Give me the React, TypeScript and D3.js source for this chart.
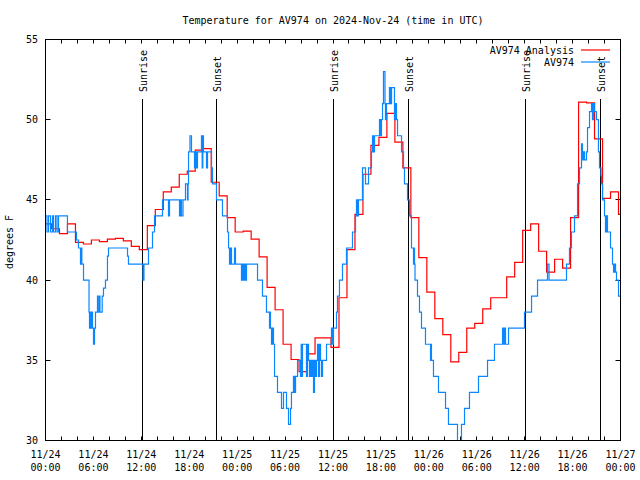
import React from "react";
import * as d3 from "d3";

const TITLE = "Temperature for AV974 on 2024-Nov-24 (time in UTC)";
const Y_LABEL = "degrees F";
const START_UTC = Date.UTC(2024, 10, 24, 0, 0);
const X_DOMAIN_HOURS = [0, 72];
const Y_DOMAIN = [30, 55];
const Y_TICKS = [30, 35, 40, 45, 50, 55];
const X_LABEL_STEP_HOURS = 6;
const X_MINOR_STEP_HOURS = 2;

// Analysis (hourly, first value begins at -0.25 h)
const ANALYSIS_START_HOUR = -0.25;
const analysisTemps = [
  43.5, 43.2, 42.9, 43.5, 42.35, 42.25, 42.5, 42.4, 42.55, 42.6, 42.45, 42.1,
  41.9, 43.4, 44.4, 45.5, 45.8, 46.6, 46.8, 48.1, 48.2, 46.1, 45.25, 43.9,
  43.0, 43.05, 42.55, 41.45, 39.55, 38.15, 36.0, 35.05, 34.3, 35.4, 36.4, 36.4,
  35.8, 38.9, 41.9, 44.1, 46.6, 48.4, 48.9, 50.4, 48.6, 47.0, 43.9, 41.4,
  39.25, 37.6, 36.6, 34.9, 35.5, 37.0, 37.3, 38.2, 38.9, 38.9, 40.2, 41.1,
  43.1, 43.5, 41.8, 40.5, 41.3, 40.75, 43.9, 51.1, 51.05, 48.8, 45.1, 45.5,
  44.1,
];

// Station observations (hours since 11/24 00:00 UTC, value holds until next)
const obsHours = [
  0.0, 0.19, 0.38, 0.63, 0.88, 1.0, 1.25, 1.44, 1.63, 2.75, 3.88, 4.13, 4.38, 4.47, 4.55, 4.76,
  5.45, 5.51, 5.6, 5.67, 5.76, 5.89, 6.01, 6.14, 6.26, 6.51, 6.6, 6.76, 6.82, 7.1, 7.26, 7.51,
  7.76, 7.89, 10.27, 10.39, 12.21, 12.33, 12.9, 13.4, 13.65, 14.65, 15.4, 15.53, 16.78, 16.9,
  17.03, 17.22, 17.53, 17.78, 17.85, 17.91, 18.09, 18.28, 18.66, 18.78, 18.91, 19.03, 19.53, 19.62,
  19.7, 19.78, 20.16, 20.29, 20.79, 20.91, 21.41, 22.16, 22.79, 22.92, 23.04, 23.17, 23.29, 23.67,
  23.79, 24.54, 24.67, 24.79, 24.92, 25.04, 25.17, 26.55, 27.17, 27.67, 28.05, 28.11, 28.17, 28.3,
  28.42, 28.55, 28.68, 29.05, 29.55, 29.8, 30.18, 30.43, 30.68, 30.8, 31.05, 31.18, 31.31, 31.56,
  31.93, 32.02, 32.09, 32.18, 32.68, 32.81, 32.93, 33.06, 33.18, 33.31, 33.43, 33.56, 33.68, 33.81,
  33.93, 34.06, 34.18, 34.31, 34.44, 34.56, 34.69, 35.19, 35.81, 35.94, 36.06, 36.44, 36.56, 36.81,
  37.19, 37.69, 38.44, 38.82, 38.94, 39.07, 39.19, 39.69, 40.07, 40.45, 40.82, 40.95, 41.07, 41.2,
  41.82, 41.95, 42.07, 42.2, 42.32, 42.51, 42.57, 42.7, 43.07, 43.2, 43.33, 43.7, 43.83, 43.95,
  44.08, 44.58, 44.83, 44.95, 45.33, 45.58, 45.83, 46.08, 46.14, 46.21, 46.27, 46.58, 46.83, 47.08,
  47.58, 48.21, 48.27, 48.33, 48.58, 49.21, 50.09, 50.46, 51.59, 52.09, 52.47, 53.09, 54.22, 55.35,
  56.22, 57.23, 57.35, 57.48, 57.6, 57.98, 59.98, 60.86, 61.61, 62.86, 63.05, 65.24, 65.61, 65.86,
  66.24, 66.62, 66.87, 67.12, 67.24, 67.37, 67.49, 67.74, 67.87, 68.12, 68.37, 68.49, 68.62, 68.75,
  68.99, 69.24, 69.37, 69.56, 69.62, 69.75, 70.0, 70.12, 70.25, 70.37, 70.75, 71.0, 71.13, 71.25,
  71.38, 71.5, 71.75, 72.0,
];
const obsTemps = [
  44, 43, 44, 43, 44, 43, 44, 43, 44, 43, 42.5, 42, 41, 42, 41, 40,
  38, 37, 38, 37, 38, 37, 36, 37, 38, 39, 38, 39, 38, 39, 39.5, 40,
  41.5, 42, 41.5, 41, 40, 41, 42, 43, 44, 45, 44, 45, 44, 45,
  44, 45, 46, 45, 46, 48, 49, 48, 47, 48, 47, 48, 49, 47,
  49, 48, 47, 48, 47, 46, 45, 44, 43, 42, 41, 42, 41, 42,
  41, 40, 41, 40, 41, 40, 41, 40, 39, 38, 37, 38, 37, 36,
  37, 36, 34, 33, 32, 33, 32, 31, 32, 33, 34, 33, 34, 35,
  34, 36, 34, 36, 34, 36, 35, 34, 35, 34, 35, 33, 35, 34,
  35, 36, 34, 36, 35, 34, 35, 36, 37, 36, 37, 38, 39, 40,
  41, 42, 43, 44, 45, 44, 45, 47, 46, 47, 48, 49, 48, 49,
  50, 49, 50, 51, 53, 51, 50, 51, 52, 51, 52, 50, 51, 50,
  49, 48, 47, 46, 45, 44, 42, 41, 42, 41, 40, 39, 38, 37,
  36, 35, 36, 35, 34, 33, 32, 31, 29, 31, 32, 33, 34, 35,
  36, 37, 36, 37, 36, 37, 38, 39, 40, 41, 40, 41, 42, 43,
  44, 46, 47, 48.5, 47.5, 48, 47.5, 48, 49.5, 50.5, 51, 50, 51, 50.5,
  50, 48, 47, 46.5, 46, 45, 44, 43, 44, 43, 42, 41, 40.5, 41,
  40.5, 40, 39, 39,
];

const sunHours = [12.15, 21.41, 36.06, 45.45, 60.11, 69.5];
const sunLabels = ["Sunrise", "Sunset", "Sunrise", "Sunset", "Sunrise", "Sunset"];

const legendNames = ["AV974 Analysis", "AV974"];
const seriesColors = ["#ff0000", "#0a86ff"];

const FONT = "'DejaVu Sans Mono', 'Liberation Mono', monospace";

export default function App() {
  const left = 45.5, right = 620.5, top = 39.5, bottom = 440.5;
  const x = d3.scaleLinear().domain(X_DOMAIN_HOURS).range([left, right]);
  const y = d3.scaleLinear().domain(Y_DOMAIN).range([bottom, top]);
  const crisp = (v: number) => Math.floor(v) + 0.5;

  const analysisPts: [number, number][] = analysisTemps.map((v, i) => [ANALYSIS_START_HOUR + i, v]);
  analysisPts.push([X_DOMAIN_HOURS[1] + 0.5, analysisTemps[analysisTemps.length - 1]]);
  const obsPts: [number, number][] = obsHours.map((h, i) => [h, obsTemps[i]]);

  const line = d3
    .line<[number, number]>()
    .x((d) => x(d[0]))
    .y((d) => y(d[1]))
    .curve(d3.curveStepAfter);

  const fmtDate = d3.utcFormat("%m/%d");
  const fmtTime = d3.utcFormat("%H:%M");
  const labelHours = d3.range(X_DOMAIN_HOURS[0], X_DOMAIN_HOURS[1] + 0.01, X_LABEL_STEP_HOURS);
  const minorHours = d3.range(X_DOMAIN_HOURS[0], X_DOMAIN_HOURS[1] + 0.01, X_MINOR_STEP_HOURS);

  return (
    <svg
      width={640}
      height={480}
      style={{ position: "absolute", left: 0, top: 0, background: "#fff" }}
      fontFamily={FONT}
      fontSize={10}
    >
      <rect x={0} y={0} width={640} height={480} fill="#fff" />
      <defs>
        <clipPath id="plot">
          <rect x={left} y={top} width={right - left} height={bottom - top} />
        </clipPath>
      </defs>
      <text x={(left + right) / 2} y={24} textAnchor="middle" fill="#000">
        {TITLE}
      </text>
      <text
        transform={`translate(13,242) rotate(-90)`}
        textAnchor="middle"
        fill="#000"
      >
        {Y_LABEL}
      </text>

      {/* y ticks and labels */}
      {Y_TICKS.map((t) => {
        const yy = crisp(y(t));
        return (
          <g key={"y" + t}>
            <line x1={left} x2={left + 5} y1={yy} y2={yy} stroke="#000" />
            <line x1={right - 5} x2={right} y1={yy} y2={yy} stroke="#000" />
            <text x={38} y={yy} dy="0.35em" textAnchor="end" fill="#000">
              {t}
            </text>
          </g>
        );
      })}

      {/* x ticks */}
      {minorHours.map((h) => {
        const xx = crisp(x(h));
        return (
          <g key={"x" + h}>
            <line x1={xx} x2={xx} y1={bottom} y2={bottom - 4} stroke="#000" />
            <line x1={xx} x2={xx} y1={top} y2={top + 4} stroke="#000" />
          </g>
        );
      })}
      {labelHours.map((h) => {
        const d = new Date(START_UTC + h * 3600e3);
        return (
          <g key={"xl" + h}>
            <text x={x(h)} y={458} textAnchor="middle" fill="#000">
              {fmtDate(d)}
            </text>
            <text x={x(h)} y={471} textAnchor="middle" fill="#000">
              {fmtTime(d)}
            </text>
          </g>
        );
      })}

      {/* sunrise / sunset */}
      {sunHours.map((h, i) => {
        const xx = crisp(x(h));
        return (
          <g key={"s" + i}>
            <line x1={xx} x2={xx} y1={99} y2={bottom} stroke="#000" />
            <text transform={`translate(${xx + 4.5},92) rotate(-90)`} fill="#000">
              {sunLabels[i]}
            </text>
          </g>
        );
      })}

      {/* data */}
      <g clipPath="url(#plot)">
        <path d={line(analysisPts) || ""} fill="none" stroke={seriesColors[0]} strokeWidth={1.2} />
        <path d={line(obsPts) || ""} fill="none" stroke={seriesColors[1]} strokeWidth={1.2} />
      </g>

      {/* frame */}
      <rect x={left} y={top} width={right - left} height={bottom - top} fill="none" stroke="#000" />

      {/* legend */}
      {legendNames.map((name, i) => (
        <g key={"lg" + i}>
          <text x={574} y={54 + i * 12} textAnchor="end" fill="#000">
            {name}
          </text>
          <line x1={581} x2={610} y1={50 + i * 12} y2={50 + i * 12} stroke={seriesColors[i]} strokeWidth={1.2} />
        </g>
      ))}
    </svg>
  );
}
